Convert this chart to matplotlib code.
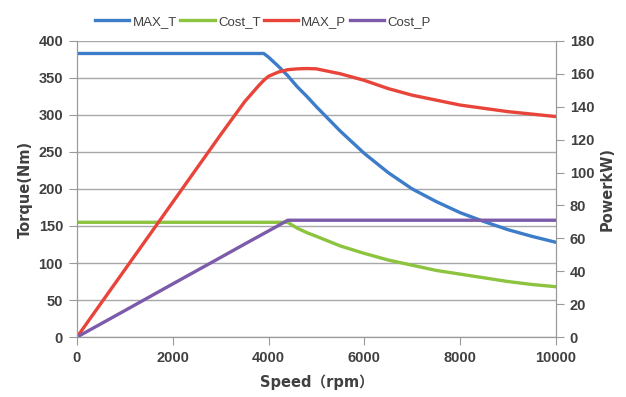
import matplotlib.pyplot as plt

# Data
speed = [0, 1000, 2000, 3000, 3500, 3800, 3900, 4000, 4200, 4400, 4600, 4800,
         5000, 5500, 6000, 6500, 7000, 7500, 8000, 8500, 9000, 9500, 10000]
max_t = [383, 383, 383, 383, 383, 383, 383, 378, 366, 353, 338, 325,
         311, 278, 248, 222, 200, 183, 168, 156, 145, 136, 128]
cost_t = [155, 155, 155, 155, 155, 155, 155, 155, 155, 155, 147, 141,
          136, 123, 113, 104, 97, 90, 85, 80, 75, 71, 68]
max_p = [0, 41, 82, 123, 143, 153, 156, 158.5, 161, 162.5, 163, 163.2,
         163, 160, 156, 151, 147, 144, 141, 139, 137, 135.5, 134]
cost_p = [0, 16.1, 32.3, 48.4, 56.5, 61.3, 62.9, 64.5, 67.7, 71, 71, 71,
          71, 71, 71, 71, 71, 71, 71, 71, 71, 71, 71]

c_blue = '#3d7cc9'
c_green = '#8cc43f'
c_red = '#e8443a'
c_purple = '#7d5bab'
txt = '#404040'
ax_col = '#9a9a9a'

plt.rcParams['font.family'] = ['Liberation Sans', 'DejaVu Sans', 'Noto Sans CJK SC']

fig = plt.figure(figsize=(6.26, 3.97), dpi=100)
ax = fig.add_axes([0.123, 0.151, 0.765, 0.746])
ax2 = ax.twinx()

l1, = ax.plot(speed, max_t, color=c_blue, lw=2.4, label='MAX_T')
l2, = ax.plot(speed, cost_t, color=c_green, lw=2.4, label='Cost_T')
l3, = ax2.plot(speed, max_p, color=c_red, lw=2.4, label='MAX_P')
l4, = ax2.plot(speed, cost_p, color=c_purple, lw=2.4, label='Cost_P')

ax.set_xlim(0, 10000)
ax.set_ylim(0, 400)
ax2.set_ylim(0, 180)
ax.set_xticks(range(0, 10001, 2000))
ax.set_yticks(range(0, 401, 50))
ax2.set_yticks(range(0, 181, 20))

ax.yaxis.grid(True, color='#a8a8a8', lw=1)
ax.set_axisbelow(True)

for a in (ax, ax2):
    a.spines['top'].set_visible(False)
    for s in ('left', 'right', 'bottom'):
        a.spines[s].set_color(ax_col)
    a.tick_params(colors=ax_col, labelcolor=txt, labelsize=10.5, length=6,
                  direction='out', pad=4)
    for lab in a.get_xticklabels() + a.get_yticklabels():
        lab.set_fontweight('bold')

ax.set_xlabel('Speed（rpm）', fontsize=10.5, fontweight='bold', color=txt,
              labelpad=7,
              family=['DejaVu Sans', 'Noto Sans CJK SC'])
ax.set_ylabel('Torque(Nm)', fontsize=10.5, fontweight='bold', color=txt,
              family=['DejaVu Sans'])
ax2.set_ylabel('PowerkW)', fontsize=10.5, fontweight='bold', color=txt,
               family=['DejaVu Sans'])

fig.legend(handles=[l1, l2, l3, l4], loc='center', bbox_to_anchor=(0.42, 0.945),
           ncol=4, frameon=False,
           prop={'family': ['Liberation Sans'], 'size': 9.5},
           handlelength=2.6, handletextpad=0.25, columnspacing=0.25,
           labelcolor=txt)

fig.savefig('out.png', dpi=100)
